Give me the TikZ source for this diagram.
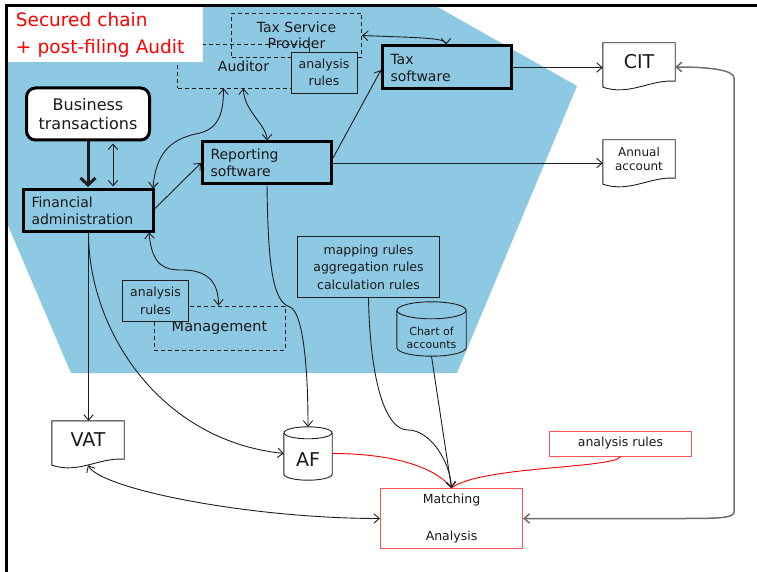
\documentclass[tikz,border=0pt]{standalone}
\usepackage{fontspec}
\setmainfont{DejaVu Sans}
\usetikzlibrary{arrows.meta,calc}
\newcommand{\fsz}[2]{\fontsize{#1}{#2}\selectfont}
\definecolor{zone}{RGB}{142,201,228}
\definecolor{ink}{RGB}{25,25,25}
\definecolor{edge}{RGB}{30,30,30}
\definecolor{rail}{RGB}{110,110,110}
\definecolor{alert}{RGB}{255,0,0}
\definecolor{alertline}{RGB}{255,85,85}

\begin{document}
\begin{tikzpicture}[x=1pt,y=-1pt,
  >={Straight Barb[length=5.5pt,width=9.5pt]},
  every node/.style={text=ink,inner sep=0pt},
  strong/.style={draw=black,line width=3pt,rectangle,align=left,inner xsep=8pt,font=\fsz{14}{17}},
  party/.style={draw=edge,line width=0.8pt,dash pattern=on 4pt off 3pt,rectangle,align=center,font=\fsz{14}{16}},
  rulebox/.style={draw=edge,fill=zone,line width=0.9pt,rectangle,align=center,font=\fsz{12.5}{17.5}},
  doc/.style={minimum width=72pt,minimum height=38pt,align=center},
  drum/.style={align=center},
  alertbox/.style={draw=alertline,line width=1pt,rectangle,align=center,font=\fsz{12.5}{18.5}},
  link/.style={draw=edge,line width=0.9pt},
  redlink/.style={draw=alert,line width=0.9pt},
  outline/.style={draw=edge,line width=0.9pt}
]
\useasboundingbox (0,0) rectangle (757,572);

% shaded zone of the secured chain
\fill[zone] (6.5,5.5) -- (435,5.5) -- (577,86) -- (457,373) -- (71,373) -- (6.5,222) -- cycle;

% external parties
\node[party,minimum width=132pt,minimum height=44pt] (aud) at (243.5,66) {Auditor};
\node[party,minimum width=130pt,minimum height=44pt] (tsp) at (296.5,35.5) {Tax Service\\Provider};
\node[rulebox,minimum width=66pt,minimum height=41pt] (audrules) at (324,72.5) {analysis\\rules};
\node[party,minimum width=131pt,minimum height=44pt,font=\fsz{14.5}{17}] (mgmt) at (219.5,328) {Management};
\node[rulebox,minimum width=66pt,minimum height=41pt] (mgmtrules) at (155.5,301) {analysis\\rules};

% title
\node[fill=white,anchor=north west,minimum width=195pt,minimum height=55pt,inner xsep=8pt,text width=179pt,align=left,text=alert,font=\fsz{18.5}{27}] (title) at (7.7,6.7) {Secured chain\\+ post-filing Audit};

% main chain
\node[strong,rounded corners=9pt,fill=white,minimum width=123pt,minimum height=52pt,align=center,font=\fsz{16}{19}] (bt) at (88,114) {Business\\transactions};
\node[strong,text width=114pt,minimum height=41pt] (fa) at (88.5,210.5) {Financial\\administration};
\node[strong,text width=113pt,minimum height=42pt] (rs) at (267,163) {Reporting\\software};
\node[strong,text width=113pt,minimum height=43pt] (ts) at (447,67.5) {Tax\\software};

% rules and data stores
\node[rulebox,minimum width=142pt,minimum height=61pt] (map) at (368.5,267) {mapping rules\\aggregation rules\\calculation rules};
\node[drum,minimum width=69pt,minimum height=37pt,font=\fsz{11}{13}] (coa) at (431.5,337.5) {Chart of\\accounts};
\node[drum,minimum width=48pt,minimum height=41pt,font=\fsz{19}{22}] (af) at (308,459.5) {AF};

% filings
\node[doc,font=\fsz{19}{22}] (cit) at (639,62) {CIT};
\node[doc,font=\fsz{12}{14}] (annual) at (639,159) {Annual\\account};
\node[doc,font=\fsz{19}{22}] (vat) at (88,440) {VAT};

% post-filing audit
\node[alertbox,minimum width=142pt,minimum height=25pt] (rules) at (620.5,443.5) {analysis rules};
\node[alertbox,minimum width=142pt,minimum height=60pt] (match) at (451.5,518.5) {Matching\\[18.5pt]Analysis};

% document outlines with wavy bottom
\foreach \n in {cit,annual,vat}
  \draw[outline] ($(\n.south west)+(0,6)$) -- (\n.north west) -- (\n.north east) -- (\n.south east)
    .. controls +(-25,-2) and +(27,9) .. ($(\n.south west)+(0,6)$);

% cylinder outlines
\foreach \n/\a/\b in {coa/34.5/8.5,af/24/6}{
  \draw[outline] ($(\n.north)+(0,-\b)$) ellipse [x radius=\a, y radius=\b];
  \draw[outline] ($(\n.north west)+(0,-\b)$) -- ($(\n.south west)+(0,-\b)$)
    .. controls +(0,0.552*\b) and +(-0.552*\a,0) .. (\n.south)
    .. controls +(0.552*\a,0) and +(0,0.552*\b) .. ($(\n.south east)+(0,-\b)$)
    -- ($(\n.north east)+(0,-\b)$);
}

\coordinate (btr) at ([xshift=25pt]bt.south);
\coordinate (aftop) at ($(af.north)+(0,-12)$);

% connectors
\draw[link,line width=3pt,-{Straight Barb[length=7pt,width=15pt]},shorten >=1.5pt] (bt.south) -- (bt.south |- fa.north);
\draw[link,<->,shorten <=2pt,shorten >=2pt] (btr) -- (btr |- fa.north);
\draw[link,->] ([yshift=2pt]fa.east) -- (rs.west);
\draw[link,->] ([yshift=5pt]rs.east) -- ([yshift=-2.5pt]ts.west);
\draw[link,->] (rs.east) -- (rs.east -| annual.west);
\draw[link,->] (ts.east) -- (ts.east -| cit.west);
\draw[link,<->] ([xshift=-2pt]fa.north east) .. controls +(3,-40) and +(-25,5) .. (200,133)
  .. controls +(20,-5) and +(0,22) .. ([xshift=-20pt]aud.south);
\draw[link,<->] (aud.south) .. controls +(0,22) and +(0,-15) .. (rs.north);
\draw[link,<->] ([xshift=-6pt]fa.south east) .. controls +(3,34) and +(-17,0) .. (182,270)
  .. controls +(23,0) and +(0,-26) .. ([xshift=-1pt]mgmt.north);
\draw[link,<->] (tsp.east) .. controls +(48,2) and +(0,-7) .. ([xshift=-1pt]ts.north);
\draw[link,->] (fa.south) -- (fa.south |- vat.north);
\draw[link,->] (fa.south) .. controls +(0,98) and +(-124,-13) .. ([yshift=6pt]af.west);
\draw[link,->] (rs.south) .. controls +(1,76) and +(-18,-5) .. (290,307)
  .. controls +(12,5) and +(0,-67) .. (aftop);
\draw[redlink] ([yshift=6pt]af.east) .. controls +(58,0) and +(-17,-22) .. (match.north);
\draw[redlink] (rules.south) .. controls +(-5,12) and +(28,-22) .. (match.north);
\draw[link,->] (map.south) .. controls +(1.5,82) and +(-23,0) .. (408,430)
  .. controls +(22,0) and +(-1.5,-27) .. (match.north);
\draw[link,->] (coa.south) -- (match.north);
\draw[link,<->] ([yshift=-6pt]vat.south) .. controls +(13,24) and +(-130,0) .. (match.west);
\draw[draw=rail,line width=1.5pt,<->] (match.east) -- (680,518.5) .. controls +(40,0) and +(0,6) .. (734,512)
  -- (734,78) .. controls +(0,-7) and +(40,0) .. ([yshift=-5pt]cit.east);

% page frame
\draw[line width=2.4pt] (6.5,572) -- (6.5,5.5) -- (757,5.5);
\end{tikzpicture}
\end{document}
